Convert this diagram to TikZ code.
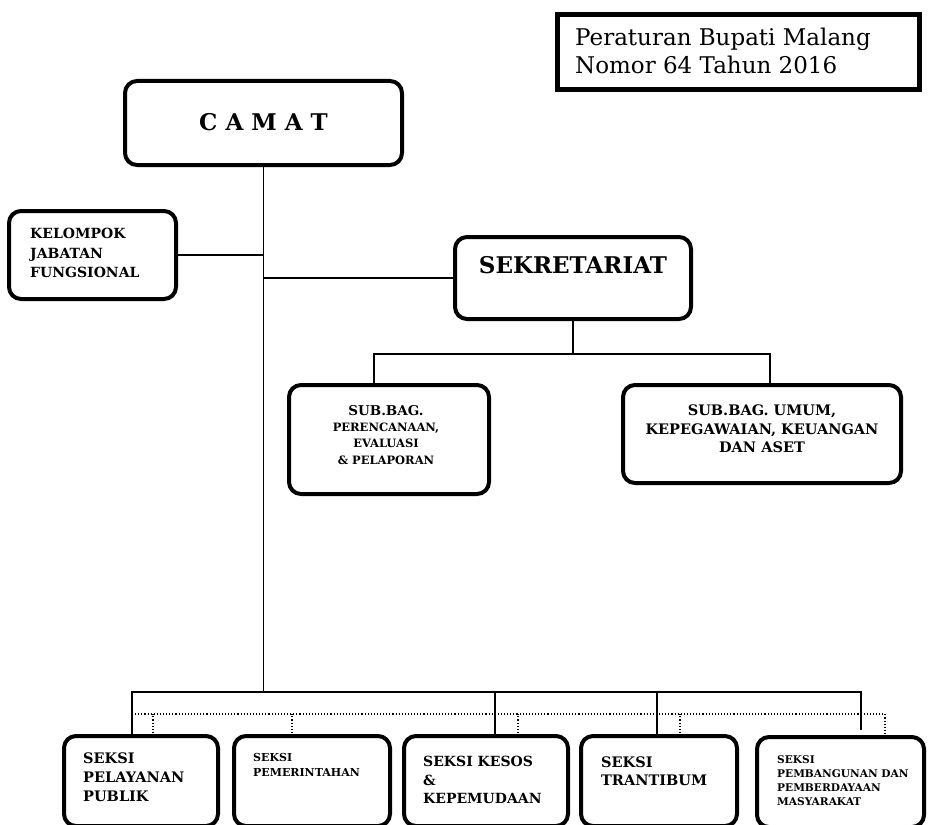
\documentclass[tikz,border=0pt]{standalone}
\usepackage{fontspec}
\setmainfont{DejaVu Serif}
\usetikzlibrary{positioning}
\tikzset{unit/.style = {draw,rounded corners=12pt,line width=4pt,inner sep=0pt,outer sep=0pt},
         link/.style = {line width=1.2pt},
         aux/.style = {line width=1.1pt,dotted},
         txt/.style = {inner sep=0pt}}
\newcommand{\fsz}[2]{\fontsize{#1}{#2}\selectfont}

\begin{document}
\begin{tikzpicture}[x=1pt,y=-1pt]
    \useasboundingbox (0,0) rectangle (928,824);
    % boxes
    \node[draw,line width=5pt,inner sep=0pt,minimum width=362pt,minimum height=75pt] (perbup) at (738.5,52) {};
    \node[unit,minimum width=277pt,minimum height=84pt] (camat) at (263.5,123) {};
    \node[unit,minimum width=167pt,minimum height=88pt] (kjf) at (92.5,255) {};
    \node[unit,minimum width=236pt,minimum height=82pt] (sek) at (573,278) {};
    \node[unit,minimum width=200pt,minimum height=109pt] (sub1) at (389,439.5) {};
    \node[unit,minimum width=278pt,minimum height=98pt] (sub2) at (762,434) {};
    \node[unit,minimum width=154pt,minimum height=90pt] (s1) at (141,781) {};
    \node[unit,minimum width=156pt,minimum height=90pt] (s2) at (312,781) {};
    \node[unit,minimum width=164pt,minimum height=90pt] (s3) at (486,781) {};
    \node[unit,minimum width=156pt,minimum height=90pt] (s4) at (659,781) {};
    \node[unit,minimum width=167pt,minimum height=90pt] (s5) at (840.5,782) {};
    % texts
    \node[txt,anchor=north west,align=left,font=\fsz{23}{27.5}] (perbup-t) at (575,28) {Peraturan Bupati Malang\\Nomor 64 Tahun 2016};
    \node[txt,font=\bfseries\fsz{23}{28}] (camat-t) at (263.5,122) {C A M A T};
    \node[txt,anchor=north west,align=left,font=\bfseries\fsz{14}{19.5}] (kjf-t) at (30,228) {KELOMPOK\\JABATAN\\FUNGSIONAL};
    \node[txt,font=\bfseries\fsz{23}{28}] (sek-t) at (573,265) {SEKRETARIAT};
    \node[txt,anchor=north,align=center,font=\bfseries\fsz{11.5}{16.3}] (sub1-t) at (386,405) {{\fsz{13.5}{16.3}SUB.BAG.}\\PERENCANAAN,\\EVALUASI\\\& PELAPORAN};
    \node[txt,anchor=north,align=center,font=\bfseries\fsz{14.5}{18.5}] (sub2-t) at (762,405) {SUB.BAG. UMUM,\\KEPEGAWAIAN, KEUANGAN\\DAN ASET};
    \node[txt,anchor=north west,align=left,font=\bfseries\fsz{14.5}{19}] (s1-t) at (83,753) {SEKSI\\PELAYANAN\\PUBLIK};
    \node[txt,anchor=north west,align=left,font=\bfseries\fsz{11}{15}] (s2-t) at (253,753) {SEKSI\\PEMERINTAHAN};
    \node[txt,anchor=north west,align=left,font=\bfseries\fsz{14}{18.5}] (s3-t) at (423,756) {SEKSI KESOS\\\&\\KEPEMUDAAN};
    \node[txt,anchor=north west,align=left,font=\bfseries\fsz{14.5}{18}] (s4-t) at (601,757) {SEKSI\\TRANTIBUM};
    \node[txt,anchor=north west,align=left,font=\bfseries\fsz{10.6}{14.3}] (s5-t) at (777,755) {SEKSI\\PEMBANGUNAN DAN\\PEMBERDAYAAN\\MASYARAKAT};
    % lines
    \coordinate (busR) at (861,692);
    \coordinate (subL) at (374,354);
    \coordinate (subR) at (770,354);
    \coordinate (dotL) at (132,714);
    \draw[link] (camat.south) -- (camat.south |- busR);
    \draw[link] (kjf.east) -- (kjf.east -| camat.south);
    \draw[link] (sek.west) -- (sek.west -| camat.south);
    \draw[link] (sek.south) -- (sek.south |- subL);
    \draw[link] (sub1.north -| subL) -- (subL) -- (subR) -- (sub2.north -| subR);
    \draw[link] ([xshift=-9pt]s1.north) |- (busR) -- ([xshift=20.5pt,yshift=7pt]s5.north);
    \foreach \b/\dx in {s3/9,s4/-2}
        \draw[link] ([xshift=\dx pt]\b.north) -- ([xshift=\dx pt]\b.north |- busR);
    \draw[aux] (dotL) -| ([xshift=44.5pt]s5.north);
    \foreach \b/\dx in {s1/12,s2/-20,s3/32,s4/21}
        \draw[aux] ([xshift=\dx pt]\b.north) -- ([xshift=\dx pt]\b.north |- dotL);
\end{tikzpicture}
\end{document}
